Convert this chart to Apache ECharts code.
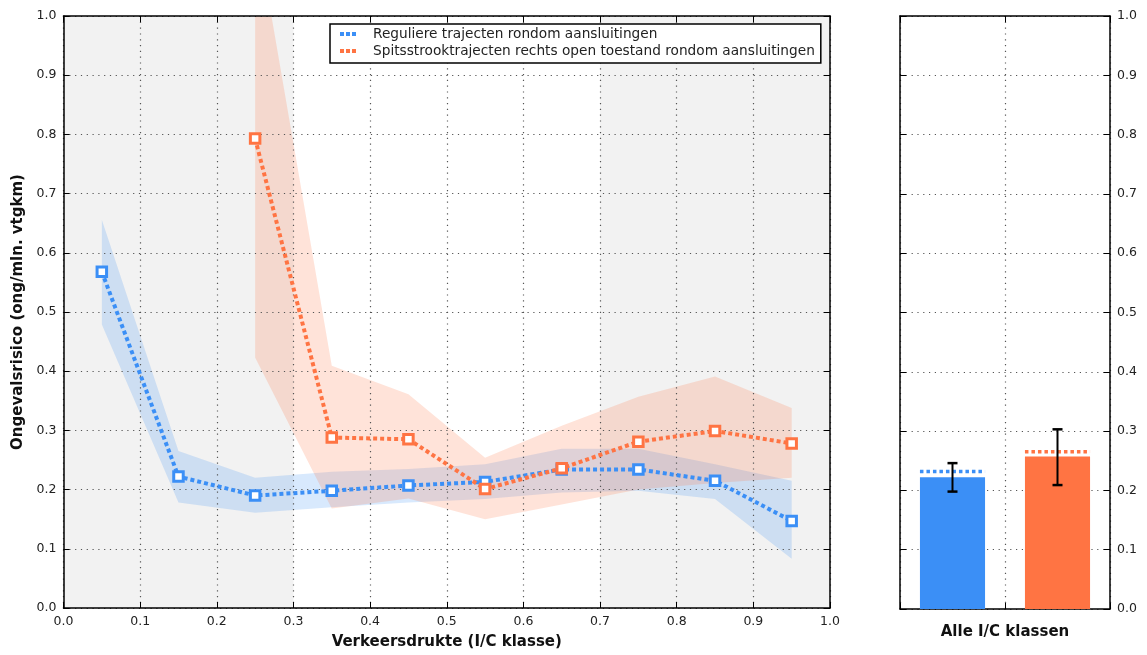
<!DOCTYPE html>
<html>
<head>
<meta charset="utf-8">
<script src="https://cdn.jsdelivr.net/npm/echarts@6/dist/echarts.min.js"></script>
<style>html,body{margin:0;padding:0;background:#fff;}#c{width:1147px;height:655px;}</style>
</head>
<body>
<div id="c"></div>
<script>
// ---- data ----
const xCenters = [0.05, 0.15, 0.25, 0.35, 0.45, 0.55, 0.65, 0.75, 0.85, 0.95];
const blueMean = [0.568, 0.222, 0.190, 0.198, 0.207, 0.213, 0.234, 0.234, 0.215, 0.147];
const blueLow  = [0.479, 0.178, 0.161, 0.170, 0.178, 0.184, 0.195, 0.198, 0.184, 0.083];
const blueHigh = [0.656, 0.265, 0.220, 0.230, 0.235, 0.243, 0.269, 0.269, 0.243, 0.215];
const orangeX    = [0.25, 0.35, 0.45, 0.55, 0.65, 0.75, 0.85, 0.95];
const orangeMean = [0.793, 0.288, 0.285, 0.201, 0.236, 0.281, 0.299, 0.278];
const orangeLow  = [0.423, 0.168, 0.185, 0.150, 0.175, 0.200, 0.211, 0.220];
const orangeHigh = [1.160, 0.409, 0.361, 0.254, 0.308, 0.357, 0.391, 0.338];
const shadedRanges = [[0.0, 0.3], [0.7, 1.0]];
const barCats = ['Reguliere', 'Spitsstrook'];
const barValues = [0.222, 0.257];
const barErrLow = [0.198, 0.209];
const barErrHigh = [0.246, 0.303];
const barRefLine = [0.232, 0.265];
const seriesNames = ['Reguliere trajecten rondom aansluitingen', 'Spitsstrooktrajecten rechts open toestand rondom aansluitingen'];
const ticks = [0, 0.1, 0.2, 0.3, 0.4, 0.5, 0.6, 0.7, 0.8, 0.9, 1.0];

const BLUE = '#3B8FF6', ORANGE = '#FF7443';
const FONT = 'DejaVu Sans';

const chart = echarts.init(document.getElementById('c'), null, {renderer: 'canvas'});

const gridLine = {show: true, lineStyle: {color: '#555', width: 1.2, type: [1.2, 4.6]}};
const axLine = {show: true, onZero: false, lineStyle: {color: '#000', width: 1.5}};
const axTick = {show: true, inside: true, length: 6, lineStyle: {color: '#000', width: 1}};
const lab = {fontFamily: FONT, fontSize: 12.5, color: '#222', formatter: v => Number(v).toFixed(1)};
const titleStyle = {fontFamily: FONT, fontSize: 15, fontWeight: 'bold', color: '#111'};

function valAxis(extra) {
  return Object.assign({
    type: 'value', min: ticks[0], max: ticks[ticks.length - 1], interval: 0.1,
    axisLine: axLine, axisTick: axTick, splitLine: {show: false},
    axisLabel: {show: false}
  }, extra);
}

function bandSeries(xs, lo, hi, color) {
  return {
    type: 'custom', xAxisIndex: 0, yAxisIndex: 0, z: -1, silent: true, clip: true,
    data: [0],
    renderItem: function (params, api) {
      const pts = [];
      for (let i = 0; i < xs.length; i++) pts.push(api.coord([xs[i], hi[i]]));
      for (let i = xs.length - 1; i >= 0; i--) pts.push(api.coord([xs[i], lo[i]]));
      const cs = params.coordSys;
      return {
        type: 'group',
        clipPath: {type: 'rect', shape: {x: cs.x, y: cs.y, width: cs.width, height: cs.height}},
        children: [{type: 'polygon', shape: {points: pts}, style: {fill: color}}]
      };
    }
  };
}

function lineSeries(name, xs, ys, color) {
  return {
    type: 'line', name: name, xAxisIndex: 0, yAxisIndex: 0, z: 3,
    data: xs.map((x, i) => [x, ys[i]]),
    symbol: 'rect', symbolSize: 9.5,
    itemStyle: {color: '#fff', borderColor: color, borderWidth: 3},
    lineStyle: {color: color, width: 4, type: [4, 3], cap: 'butt'},
    emphasis: {disabled: true}, animation: false
  };
}

const option = {
  animation: false,
  backgroundColor: '#fff',
  textStyle: {fontFamily: FONT},
  grid: [
    {left: 63.5, right: 317, top: 16, bottom: 46},
    {left: 900, right: 37, top: 16, bottom: 46}
  ],
  legend: {
    left: 330, top: 24, orient: 'vertical',
    data: [
      {name: seriesNames[0], itemStyle: {color: BLUE, borderWidth: 0}},
      {name: seriesNames[1], itemStyle: {color: ORANGE, borderWidth: 0}}
    ],
    icon: 'path://M0,0h4v4h-4zM6,0h4v4h-4zM12,0h4v4h-4z',
    itemWidth: 16, itemHeight: 4, itemGap: 3,
    padding: [3, 6, 5, 10],
    backgroundColor: '#fff', borderColor: '#000', borderWidth: 1.5, borderRadius: 0,
    formatter: n => '{t|' + n + '}',
    textStyle: {fontFamily: FONT, fontSize: 13.7, color: '#222',
      rich: {t: {fontFamily: FONT, fontSize: 13.7, color: '#222', padding: [0, 0, 0, 12], lineHeight: 16}}},
    selectedMode: false
  },
  xAxis: [
    valAxis({gridIndex: 0, position: 'bottom', axisLabel: Object.assign({show: true, margin: 7}, lab),
      splitLine: gridLine,
      name: 'Verkeersdrukte (I/C klasse)', nameLocation: 'middle', nameGap: 27,
      nameTextStyle: titleStyle}),
    valAxis({gridIndex: 0, position: 'top'}),
    {type: 'category', gridIndex: 1, position: 'bottom', data: barCats, boundaryGap: true,
      axisLine: axLine, axisTick: Object.assign({}, axTick, {alignWithLabel: false, interval: 0}),
      axisLabel: {show: false}, splitLine: Object.assign({interval: 0}, gridLine),
      name: 'Alle I/C klassen', nameLocation: 'middle', nameGap: 16,
      nameTextStyle: titleStyle},
    {type: 'category', gridIndex: 1, position: 'top', data: barCats, boundaryGap: true,
      axisLine: axLine, axisTick: Object.assign({}, axTick, {alignWithLabel: false, interval: 0}),
      axisLabel: {show: false}, splitLine: {show: false}}
  ],
  yAxis: [
    valAxis({gridIndex: 0, position: 'left', axisLabel: Object.assign({show: true, margin: 7}, lab),
      splitLine: gridLine,
      name: 'Ongevalsrisico (ong/mln. vtgkm)', nameLocation: 'middle', nameGap: 38,
      nameTextStyle: titleStyle}),
    valAxis({gridIndex: 0, position: 'right'}),
    valAxis({gridIndex: 1, position: 'left', splitLine: gridLine}),
    valAxis({gridIndex: 1, position: 'right', axisLabel: Object.assign({show: true, margin: 7}, lab)})
  ],
  series: [
    {
      type: 'custom', xAxisIndex: 0, yAxisIndex: 0, z: -2, silent: true,
      data: shadedRanges.map(r => [r[0], r[1]]),
      renderItem: function (params, api) {
        const p0 = api.coord([api.value(0), ticks[ticks.length - 1]]);
        const p1 = api.coord([api.value(1), ticks[0]]);
        return {type: 'rect', shape: {x: p0[0], y: p0[1], width: p1[0] - p0[0], height: p1[1] - p0[1]},
          style: {fill: '#f2f2f2'}};
      }
    },
    bandSeries(xCenters, blueLow, blueHigh, 'rgba(59,143,246,0.2)'),
    bandSeries(orangeX, orangeLow, orangeHigh, 'rgba(255,116,67,0.2)'),
    lineSeries(seriesNames[0], xCenters, blueMean, BLUE),
    lineSeries(seriesNames[1], orangeX, orangeMean, ORANGE),
    {
      type: 'bar', xAxisIndex: 2, yAxisIndex: 2, barWidth: '62%',
      data: barValues.map((v, i) => ({value: v, itemStyle: {color: i === 0 ? BLUE : ORANGE}})),
      silent: true
    },
    {
      type: 'custom', xAxisIndex: 2, yAxisIndex: 2, z: 4, silent: true,
      data: barValues.map((v, i) => [i, barRefLine[i], barErrLow[i], barErrHigh[i]]),
      renderItem: function (params, api) {
        const i = api.value(0);
        const bw = api.size([1, 0])[0] * 0.62;
        const ref = api.coord([i, api.value(1)]);
        const lo = api.coord([i, api.value(2)]);
        const hi = api.coord([i, api.value(3)]);
        const col = i === 0 ? BLUE : ORANGE;
        return {type: 'group', children: [
          {type: 'line', shape: {x1: ref[0] - bw / 2, y1: ref[1], x2: ref[0] + bw / 2, y2: ref[1]},
            style: {stroke: col, lineWidth: 3.5, lineDash: [3.5, 3], lineCap: 'butt'}},
          {type: 'line', shape: {x1: lo[0], y1: lo[1], x2: hi[0], y2: hi[1]}, style: {stroke: '#000', lineWidth: 2}},
          {type: 'line', shape: {x1: lo[0] - 5, y1: lo[1], x2: lo[0] + 5, y2: lo[1]}, style: {stroke: '#000', lineWidth: 2.5}},
          {type: 'line', shape: {x1: hi[0] - 5, y1: hi[1], x2: hi[0] + 5, y2: hi[1]}, style: {stroke: '#000', lineWidth: 2.5}}
        ]};
      }
    }
  ]
};
chart.setOption(option);
</script>
</body>
</html>
